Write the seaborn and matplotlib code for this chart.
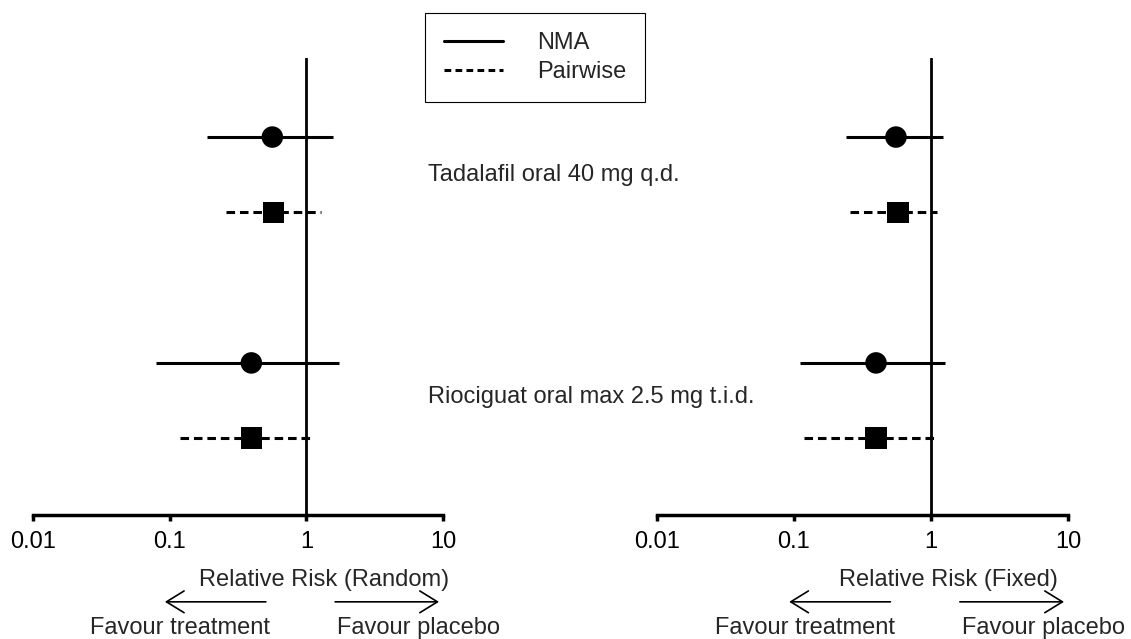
import numpy as np
import pandas as pd
import matplotlib
matplotlib.use('Agg')
import matplotlib.pyplot as plt
import seaborn as sns

# point estimates and 95% intervals, order: Tadalafil NMA, Tadalafil pairwise,
# Riociguat NMA, Riociguat pairwise
drugs = ['Tadalafil oral 40 mg q.d.', 'Riociguat oral max 2.5 mg t.i.d.']
methods = ['NMA', 'Pairwise']

random_est = [0.564, 0.574, 0.396, 0.396]
random_lo = [0.189, 0.26, 0.080, 0.12]
random_hi = [1.576, 1.29, 1.74, 1.106]

fixed_est = [0.555, 0.574, 0.397, 0.397]
fixed_lo = [0.24, 0.256, 0.111, 0.118]
fixed_hi = [1.22, 1.106, 1.265, 1.106]

tick_vals = [0.01, 0.1, 1, 10]
tick_labels = ['0.01', '0.1', '1', '10']
panel_titles = ['Relative Risk (Random)', 'Relative Risk (Fixed)']

sns.set_style('white')
plt.rcParams['font.family'] = ['Liberation Sans', 'DejaVu Sans']
FS = 17
DASH = (0, (2.8, 1.6))

W, H = 1131, 639
fig = plt.figure(figsize=(W / 100, H / 100), dpi=100)


def px_box(x0, x1, ytop, ybot):
    return [x0 / W, 1 - ybot / H, (x1 - x0) / W, (ybot - ytop) / H]


def draw_panel(ax, est, lo, hi, title):
    df = pd.DataFrame({
        'drug': np.repeat(drugs, 2),
        'method': methods * len(drugs),
        'est': est, 'lo': lo, 'hi': hi,
    })
    df['row'] = np.repeat(np.arange(len(drugs)), 2) * 3 + np.tile([0, 1], len(drugs))

    for method, ls in [('NMA', 'solid'), ('Pairwise', DASH)]:
        sub = df[df['method'] == method]
        ax.hlines(sub['row'], sub['lo'], sub['hi'], colors='black',
                  linewidth=2.2, linestyles=[ls], zorder=2)
    sns.scatterplot(data=df, x='est', y='row', style='method',
                    markers={'NMA': 'o', 'Pairwise': 's'}, s=240,
                    color='black', linewidth=0, legend=False, ax=ax, zorder=3)
    ax.axvline(1, color='black', lw=2, zorder=1)

    ax.set_xscale('log')
    ax.set_xlim(0.01, 10)
    ax.set_ylim(5.02, -1.05)
    ax.set_xticks(tick_vals)
    ax.set_xticklabels(tick_labels)
    ax.xaxis.set_minor_locator(matplotlib.ticker.NullLocator())
    ax.set_yticks([])
    ax.set_xlabel('')
    ax.set_ylabel('')
    for side in ['left', 'top', 'right']:
        ax.spines[side].set_visible(False)
    ax.spines['bottom'].set_linewidth(2.5)
    ax.spines['bottom'].set_color('black')
    ax.tick_params(axis='x', bottom=True, length=4.5, width=2.5, pad=7,
                   labelsize=FS, colors='black')

    tr = ax.get_xaxis_transform()
    ax.text(1.35, -0.142, title, transform=tr, ha='center', va='center', fontsize=FS)
    arrow = dict(arrowstyle='->, head_length=0.47, head_width=0.29', lw=1.2,
                 color='black', mutation_scale=27)
    ax.annotate('', xy=(0.088, -0.19), xytext=(0.53, -0.19), xycoords=tr,
                arrowprops=arrow, annotation_clip=False)
    ax.annotate('', xy=(9.8, -0.19), xytext=(1.55, -0.19), xycoords=tr,
                arrowprops=arrow, annotation_clip=False)
    ax.text(0.12, -0.247, 'Favour treatment', transform=tr, ha='center',
            va='center', fontsize=FS)
    ax.text(6.6, -0.247, 'Favour placebo', transform=tr, ha='center',
            va='center', fontsize=FS)


ax1 = fig.add_axes(px_box(33, 443, 58, 515))
ax2 = fig.add_axes(px_box(657, 1068, 58, 515))
draw_panel(ax1, random_est, random_lo, random_hi, panel_titles[0])
draw_panel(ax2, fixed_est, fixed_lo, fixed_hi, panel_titles[1])

# drug labels between the two panels
for drug, ypx in zip(drugs, [175, 397]):
    fig.text(428 / W, 1 - ypx / H, drug, ha='left', va='center', fontsize=FS)

handles = [matplotlib.lines.Line2D([], [], color='black', lw=2.2, ls='solid'),
           matplotlib.lines.Line2D([], [], color='black', lw=2.2, ls=(0, (2.2, 1.4)))]
leg = fig.legend(handles, methods, loc='upper left',
                 bbox_to_anchor=(425 / W, 1 - 13 / H), borderaxespad=0,
                 fontsize=FS, frameon=True, fancybox=False, framealpha=1,
                 edgecolor='black', borderpad=0.8, handlelength=2.5,
                 handletextpad=1.45, labelspacing=0.3)
leg.get_frame().set_linewidth(0.8)

fig.savefig('out.png', dpi=100)
